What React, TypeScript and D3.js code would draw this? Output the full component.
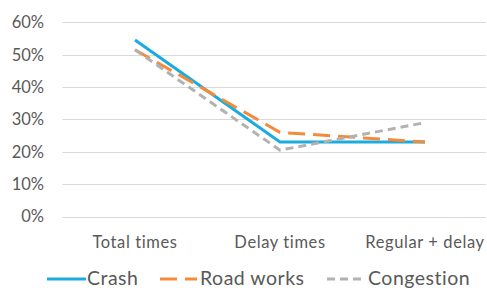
import { useEffect, useRef } from "react"
import * as d3 from "d3"

const categories = ["Total times", "Delay times", "Regular + delay"]
const crash = [0.545, 0.23, 0.23]
const roadWorks = [0.515, 0.26, 0.23]
const congestion = [0.515, 0.205, 0.29]
const yTicks = [0, 0.1, 0.2, 0.3, 0.4, 0.5, 0.6]

const series = [
  { name: "Crash", values: crash, color: "#1AABE0", dash: "none" },
  { name: "Road works", values: roadWorks, color: "#F38B3A", dash: "17,8" },
  { name: "Congestion", values: congestion, color: "#B2B2B2", dash: "8,5" },
]

export default function App() {
  const svgRef = useRef<SVGSVGElement>(null)

  useEffect(() => {
    if (!svgRef.current) return
    const svg = d3.select(svgRef.current)
    svg.selectAll("*").remove()

    const left = 62.5
    const right = 497.5
    const x = d3.scalePoint().domain(categories).range([left, right]).padding(0.5)
    const y = d3.scaleLinear().domain([0, 0.6]).range([216.5, 22.3])
    const font = "Lato, 'Open Sans', sans-serif"

    // Grid lines
    svg.append("g")
      .selectAll("line")
      .data(yTicks)
      .enter()
      .append("line")
      .attr("x1", left)
      .attr("x2", 486)
      .attr("y1", (d) => Math.round(y(d)) + 0.5)
      .attr("y2", (d) => Math.round(y(d)) + 0.5)
      .attr("stroke", "#D9D9D9")
      .attr("stroke-width", 1)

    // Y tick labels
    svg.append("g")
      .selectAll("text")
      .data(yTicks)
      .enter()
      .append("text")
      .attr("x", 44)
      .attr("y", (d) => y(d))
      .attr("dy", "0.36em")
      .attr("text-anchor", "end")
      .attr("fill", "#595959")
      .attr("font-family", font)
      .attr("font-size", 16.5)
      .text((d) => d3.format(".0%")(d))

    // X labels
    svg.append("g")
      .selectAll("text")
      .data(categories)
      .enter()
      .append("text")
      .attr("x", (d) => x(d) || 0)
      .attr("y", 248)
      .attr("text-anchor", "middle")
      .attr("fill", "#595959")
      .attr("font-family", font)
      .attr("font-size", 16.5)
      .attr("letter-spacing", 0.6)
      .text((d) => d)

    const line = d3
      .line<number>()
      .x((_, i) => x(categories[i]) || 0)
      .y((d) => y(d))

    series.forEach((s) => {
      svg.append("path")
        .attr("d", line(s.values))
        .attr("fill", "none")
        .attr("stroke", s.color)
        .attr("stroke-width", 3)
        .attr("stroke-dasharray", s.dash)
        .attr("stroke-linejoin", "round")
    })

    // Legend
    const legendItems = [
      { s: series[0], x1: 47, x2: 86, tx: 87 },
      { s: series[1], x1: 160, x2: 197, tx: 200 },
      { s: series[2], x1: 327, x2: 362, tx: 368 },
    ]
    const lg = svg.append("g")
    legendItems.forEach((it) => {
      lg.append("line")
        .attr("x1", it.x1)
        .attr("x2", it.x2)
        .attr("y1", 279)
        .attr("y2", 279)
        .attr("stroke", it.s.color)
        .attr("stroke-width", 3)
        .attr("stroke-dasharray", it.s.dash)
      lg.append("text")
        .attr("x", it.tx)
        .attr("y", 285)
        .attr("fill", "#595959")
        .attr("font-family", font)
        .attr("font-size", 19.5)
        .attr("letter-spacing", 0.5)
        .text(it.s.name)
    })
  }, [])

  return (
    <svg
      ref={svgRef}
      width={487}
      height={288}
      style={{ position: "absolute", left: 0, top: 0, background: "#fff" }}
    />
  )
}
